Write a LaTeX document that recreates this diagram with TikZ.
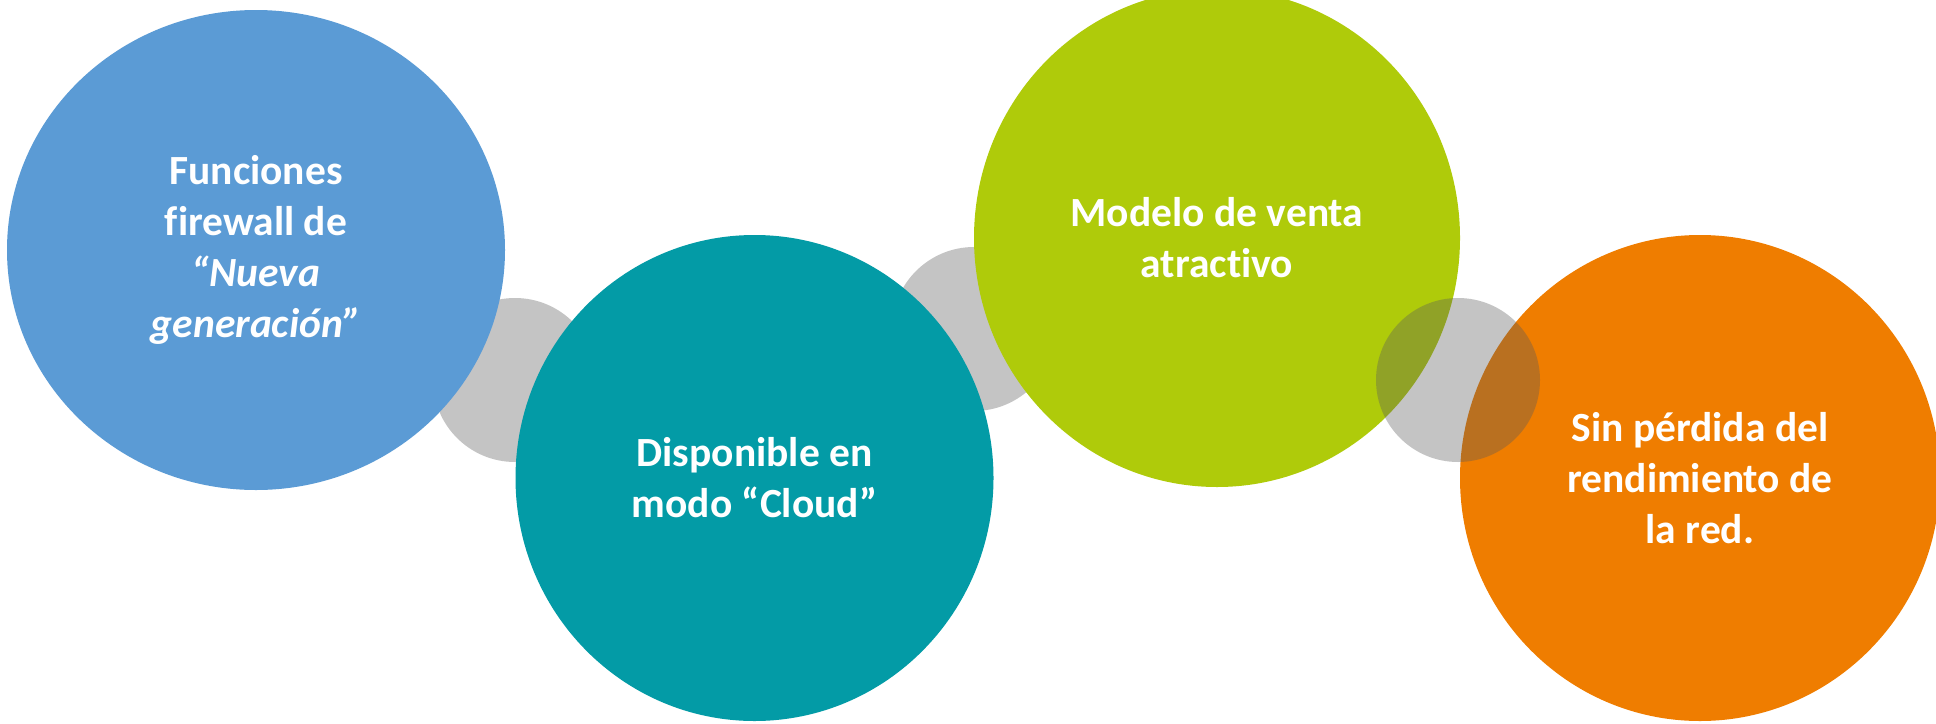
\documentclass[tikz,border=0pt]{standalone}
\usepackage{fontspec}
\setmainfont{Carlito}[Ligatures={NoCommon,NoDiscretionary,NoContextual}]
\usetikzlibrary{shapes.geometric}
\definecolor{cblue}{RGB}{91,155,213}
\definecolor{cteal}{RGB}{3,155,166}
\definecolor{cgreen}{RGB}{175,203,10}
\definecolor{corange}{RGB}{239,125,0}
\definecolor{cgray}{RGB}{91,91,91}
\tikzset{
  bubble/.style={ellipse, draw=none, inner sep=0pt, outer sep=0pt,
    text=white, align=center, font=\bfseries\fontsize{41.5}{51}\selectfont},
  joint/.style={circle, draw=none, fill=cgray, fill opacity=0.36,
    minimum size=164pt, inner sep=0pt, outer sep=0pt}
}
\begin{document}
\begin{tikzpicture}[x=1pt,y=-1pt]
\useasboundingbox (0,0) rectangle (1936,723);
\clip (0,0) rectangle (1936,723);
\node[joint] (j1) at (515,380) {};
\node[joint] (j2) at (974,329) {};
\node[bubble, fill=cblue, minimum width=498pt, minimum height=480pt] (b1) at (256,250)
  {Funciones\\firewall de\\\textit{“Nueva}\\\textit{generación”}};
\node[bubble, fill=cteal, minimum width=478pt, minimum height=486pt] (b2) at (754.5,478)
  {Disponible en\\modo “Cloud”};
\node[bubble, fill=cgreen, minimum width=486pt, minimum height=498pt] (b3) at (1217,238)
  {Modelo de venta\\atractivo};
\node[bubble, fill=corange, minimum width=480pt, minimum height=486pt] (b4) at (1700,478)
  {Sin pérdida del\\rendimiento de\\la red.};
\node[joint] (j3) at (1458,380) {};
\end{tikzpicture}
\end{document}
